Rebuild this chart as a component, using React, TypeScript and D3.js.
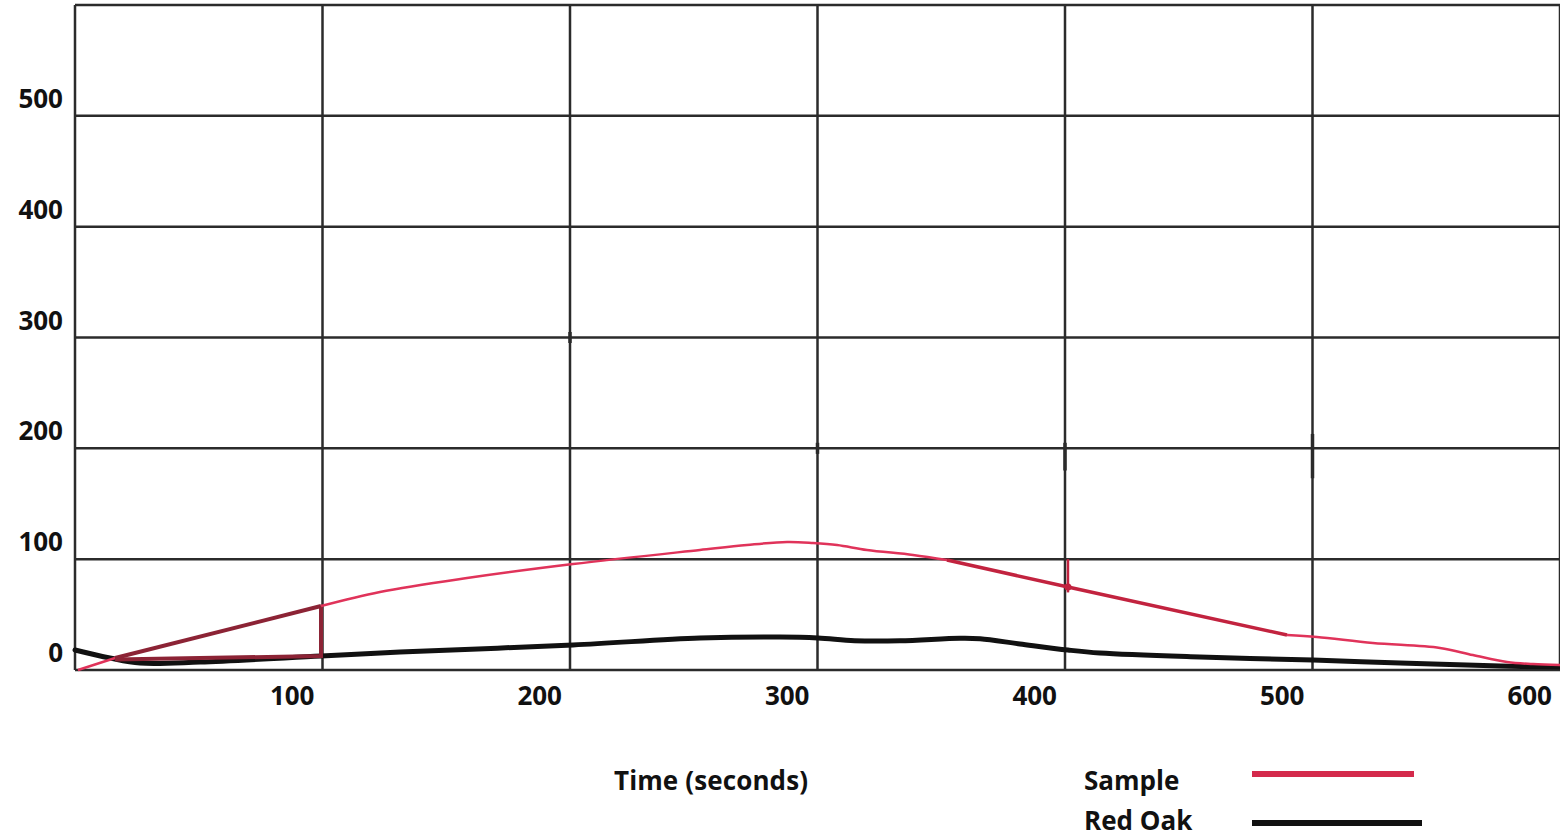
import React from "react";
import * as d3 from "d3";

const W = 1560;
const H = 838;

const xTicks = [100, 200, 300, 400, 500, 600];
const yTicks = [0, 100, 200, 300, 400, 500];
const xGrid = [0, 100, 200, 300, 400, 500, 600];
const yGrid = [0, 100, 200, 300, 400, 500, 600];

// Sample (heat release) series
const sampleTime = [1.2, 16.2, 99.4, 123.2, 158.4, 201.2, 252.5, 271.5, 287.7, 298.2, 307.9, 320, 338.6, 352.3, 401.2, 489.7, 501.8, 524.4, 551.5, 564.8, 578.6, 589.1, 600];
const sampleValue = [0, 10.8, 57.7, 70.4, 83.0, 95.6, 108.3, 112.8, 115.5, 114.6, 112.8, 108.3, 103.8, 99.2, 74.9, 31.6, 29.8, 24.4, 19.9, 13.5, 7.2, 5.4, 4.5];
// hand-edited portion near the start
const sampleEditTime = [16.2, 99.4, 99.4];
const sampleEditValue = [9.5, 12.6, 57.7];

// Red Oak series
const oakTime = [0, 14.1, 26.3, 50.5, 99.4, 131.3, 201.2, 252.5, 284.8, 300.2, 315, 333.3, 357.6, 365.7, 381.8, 401.2, 414.1, 454.5, 500.2, 535.4, 575.8, 600];
const oakValue = [18, 10.8, 6.3, 7.2, 12.6, 16.2, 22.6, 28.9, 29.8, 28.9, 26.5, 26.4, 28.6, 28.2, 23.5, 18.0, 15.3, 11.7, 9.0, 6.3, 3.6, 2.7];

const legendLabels = ["Sample", "Red Oak"];
const xTitle = "Time (seconds)";

const FONT = "'Open Sans', 'Liberation Sans', sans-serif";

export default function App() {
  const x = d3.scaleLinear().domain([0, 600]).range([75, 1560]);
  const y = d3.scaleLinear().domain([0, 600]).range([670, 5]);

  const pts = (t: number[], v: number[], a = 0, b = t.length - 1) =>
    t.slice(a, b + 1).map((tt, i) => [tt, v[a + i]] as [number, number]);

  const smooth = d3
    .line<[number, number]>()
    .x((d) => x(d[0]))
    .y((d) => y(d[1]))
    .curve(d3.curveCatmullRom.alpha(0.5));
  const straight = d3
    .line<[number, number]>()
    .x((d) => x(d[0]))
    .y((d) => y(d[1]));

  const pink = "#e0335a";
  const darkRed = "#8c2335";
  const red = "#c2233f";
  const gridColor = "#2b2b2b";

  return (
    <svg
      width={W}
      height={H}
      style={{ position: "absolute", left: 0, top: 0, background: "#fff" }}
    >
      <rect width={W} height={H} fill="#fff" />
      {/* grid */}
      {yGrid.map((v) => (
        <line key={"h" + v} x1={x(0)} x2={x(600)} y1={y(v)} y2={y(v)} stroke={gridColor} strokeWidth={2.5} />
      ))}
      {xGrid.map((v) => (
        <line key={"v" + v} x1={x(v)} x2={x(v)} y1={y(600)} y2={y(0)} stroke={gridColor} strokeWidth={2.5} />
      ))}
      {/* small thicker grid artefacts */}
      <line x1={x(200)} x2={x(200)} y1={y(305)} y2={y(295)} stroke={gridColor} strokeWidth={3.5} />
      <line x1={x(300)} x2={x(300)} y1={y(205)} y2={y(195)} stroke={gridColor} strokeWidth={3.5} />
      <line x1={x(400)} x2={x(400)} y1={y(205)} y2={y(180)} stroke={gridColor} strokeWidth={3.5} />
      <line x1={x(500)} x2={x(500)} y1={y(213)} y2={y(173)} stroke={gridColor} strokeWidth={3.5} />

      {/* Red Oak */}
      <path d={smooth(pts(oakTime, oakValue)) || ""} fill="none" stroke="#111" strokeWidth={5} strokeLinecap="round" />

      {/* Sample */}
      <path d={straight(pts(sampleTime, sampleValue, 0, 1)) || ""} fill="none" stroke={pink} strokeWidth={2.5} />
      <path d={straight(pts(sampleTime, sampleValue, 1, 2)) || ""} fill="none" stroke={darkRed} strokeWidth={4} />
      <path d={straight(pts(sampleEditTime, sampleEditValue)) || ""} fill="none" stroke={darkRed} strokeWidth={4} />
      <path d={smooth(pts(sampleTime, sampleValue, 2, 13)) || ""} fill="none" stroke={pink} strokeWidth={2.5} />
      <path d={straight(pts(sampleTime, sampleValue, 13, 15)) || ""} fill="none" stroke={red} strokeWidth={3.5} />
      <line x1={x(401.2)} x2={x(401.2)} y1={y(100)} y2={y(70)} stroke={red} strokeWidth={2.5} />
      <circle cx={x(401.2)} cy={y(74.9)} r={3.5} fill={red} />
      <path d={smooth(pts(sampleTime, sampleValue, 15)) || ""} fill="none" stroke={pink} strokeWidth={2.5} />

      {/* y labels */}
      {yTicks.map((v) => (
        <text key={"yl" + v} x={63} y={y(v) - 8} textAnchor="end" fontFamily={FONT} fontWeight={700} fontSize={26} fill="#111">
          {v}
        </text>
      ))}
      {/* x labels */}
      {xTicks.map((v) => (
        <text key={"xl" + v} x={x(v) - 8} y={705} textAnchor="end" fontFamily={FONT} fontWeight={700} fontSize={26} fill="#111">
          {v}
        </text>
      ))}
      <text x={614} y={790} fontFamily={FONT} fontWeight={700} fontSize={26} fill="#111" textLength={194}>
        {xTitle}
      </text>

      {/* legend */}
      <text x={1084} y={790} fontFamily={FONT} fontWeight={700} fontSize={26} fill="#111">
        {legendLabels[0]}
      </text>
      <line x1={1252} x2={1414} y1={774} y2={774} stroke="#d42a4c" strokeWidth={6} />
      <text x={1084} y={830} fontFamily={FONT} fontWeight={700} fontSize={26} fill="#111">
        {legendLabels[1]}
      </text>
      <line x1={1252} x2={1422} y1={823} y2={823} stroke="#111" strokeWidth={6} />
    </svg>
  );
}
